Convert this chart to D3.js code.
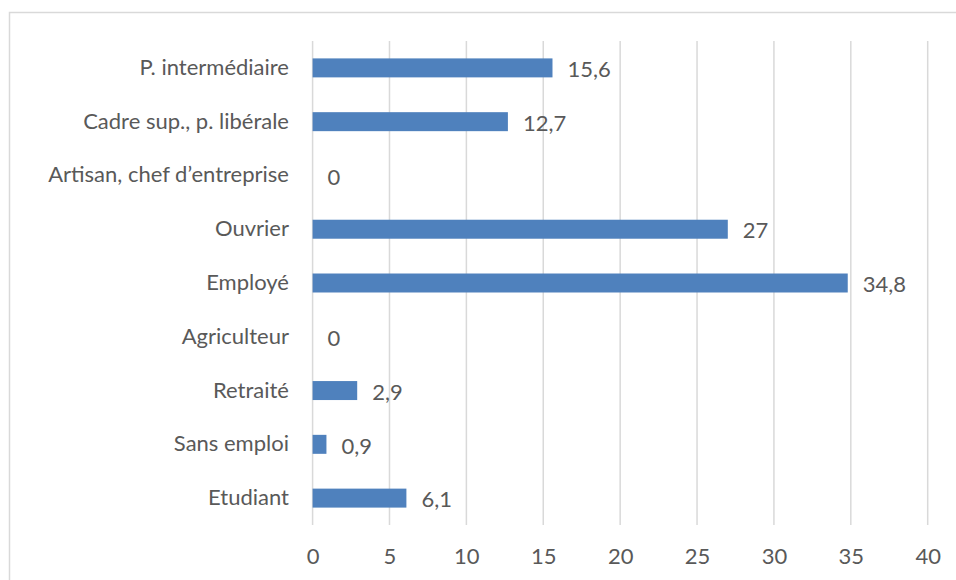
<!DOCTYPE html>
<html>
<head>
<meta charset="utf-8">
<script src="https://d3js.org/d3.v7.min.js"></script>
<style>
  body { margin: 0; background: #fff; }
  svg { display: block; }
  text { font-family: Lato, "Open Sans", sans-serif; fill: #595959; }
</style>
</head>
<body>
<svg id="chart" width="956" height="580"></svg>
<script>
// categories, top to bottom
var categories = [
    "P. intermédiaire",
    "Cadre sup., p. libérale",
    "Artisan, chef d\u2019entreprise",
    "Ouvrier",
    "Employé",
    "Agriculteur",
    "Retraité",
    "Sans emploi",
    "Etudiant"
];
var values = [15.6, 12.7, 0, 27, 34.8, 0, 2.9, 0.9, 6.1];
var xTicks = [0, 5, 10, 15, 20, 25, 30, 35, 40];

var fontSize = "22px";

var svg = d3.select("#chart");

var plot = { left: 312.6, right: 927.7, top: 41, bottom: 525 };

// outer chart frame (cropped at right/bottom)
svg.append("rect")
    .attr("x", 9.5)
    .attr("y", 12.5)
    .attr("width", 960)
    .attr("height", 600)
    .attr("fill", "none")
    .attr("stroke", "#d9d9d9")
    .attr("stroke-width", 1.5);

var x = d3.scaleLinear().domain([0, 40]).range([plot.left, plot.right]);
var y = d3.scaleBand()
    .domain(categories)
    .range([plot.top, plot.bottom])
    .paddingInner(0.647)
    .paddingOuter(0.3235);

var fmt = function(v) {
    return String(v).replace(".", ",");
};

// vertical gridlines
var grid = svg.append("g").attr("id", "grid");
grid.selectAll("line")
    .data(xTicks)
    .enter()
    .append("line")
    .attr("x1", function(d) { return x(d); })
    .attr("x2", function(d) { return x(d); })
    .attr("y1", plot.top)
    .attr("y2", plot.bottom)
    .attr("stroke", "#d9d9d9")
    .attr("stroke-width", 1.5);

// x axis labels
var xAxis = d3.axisBottom(x).tickValues(xTicks).tickSize(0).tickPadding(0);
var gx = svg.append("g")
    .attr("transform", "translate(0," + (plot.bottom + 24) + ")")
    .call(xAxis);
gx.select(".domain").remove();
gx.selectAll("text")
    .attr("dy", "0.35em")
    .attr("y", 7)
    .style("font-size", fontSize)
    .style("fill", "#595959")
    .style("font-family", "Lato, 'Open Sans', sans-serif");

// y axis labels
var yAxis = d3.axisLeft(y).tickSize(0).tickPadding(0);
var gy = svg.append("g")
    .attr("transform", "translate(" + 289 + ",0)")
    .call(yAxis);
gy.select(".domain").remove();
gy.selectAll("text")
    .style("font-size", fontSize)
    .style("fill", "#595959")
    .style("font-family", "Lato, 'Open Sans', sans-serif");

// bars
var bars = svg.append("g").attr("id", "bars");
bars.selectAll("rect")
    .data(values)
    .enter()
    .append("rect")
    .attr("x", x(0))
    .attr("y", function(d, i) { return y(categories[i]); })
    .attr("width", function(d) { return x(d) - x(0); })
    .attr("height", y.bandwidth())
    .attr("fill", "#4f81bd");

// value labels
svg.append("g").attr("id", "labels")
    .selectAll("text")
    .data(values)
    .enter()
    .append("text")
    .attr("x", function(d) { return x(d) + 15; })
    .attr("y", function(d, i) { return y(categories[i]) + y.bandwidth() / 2 + 1.5; })
    .attr("dy", "0.35em")
    .style("font-size", fontSize)
    .text(function(d) { return fmt(d); });
</script>
</body>
</html>
